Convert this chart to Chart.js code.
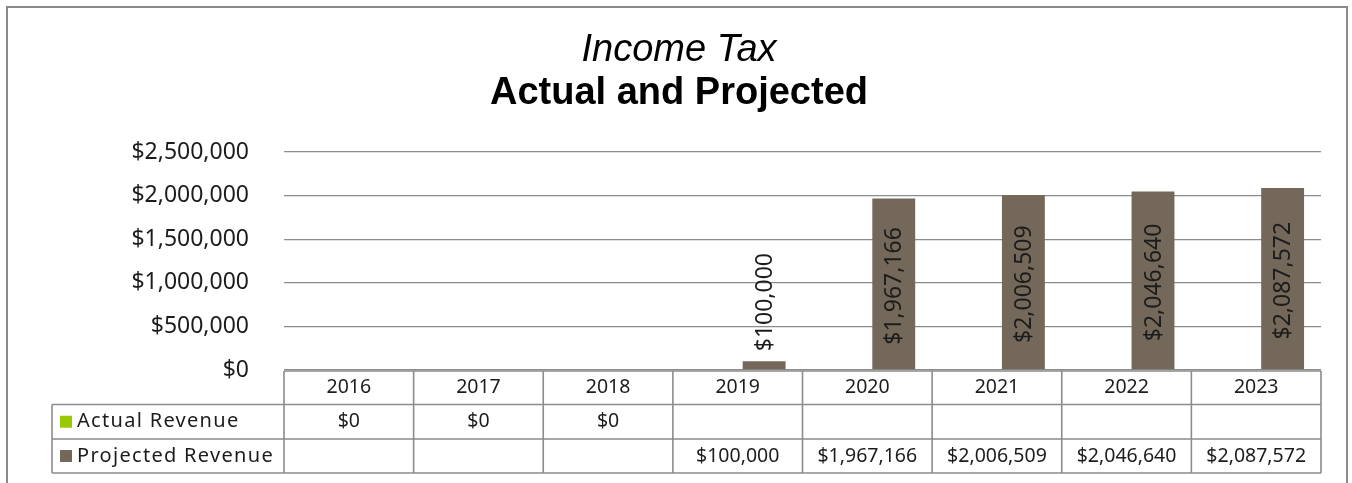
<!DOCTYPE html>
<html lang="en">
<head>
  <meta charset="UTF-8" />
  <title>Income Tax - Actual and Projected</title>
  <script src="https://cdn.jsdelivr.net/npm/chart.js"></script>
  <style>
    html, body { margin: 0; padding: 0; background: #fff; }
    canvas { display: block; }
  </style>
</head>
<body>
  <canvas id="taxChart" width="1352" height="483"></canvas>

  <script>
    // Chart data
    const years = ['2016', '2017', '2018', '2019', '2020', '2021', '2022', '2023'];
    const actualRevenue = [0, 0, 0, null, null, null, null, null];
    const projectedRevenue = [null, null, null, 100000, 1967166, 2006509, 2046640, 2087572];
    const yTickValues = [0, 500000, 1000000, 1500000, 2000000, 2500000];
    const seriesNames = ['Actual Revenue', 'Projected Revenue'];
    const titleLines = ['Income Tax', 'Actual and Projected'];

    const GREEN = '#99c900';
    const BROWN = '#736859';
    const TEXT = '#1c1c1c';
    const LINE = '#8c8c8c';
    const BODY_FONT = '"Noto Sans", sans-serif';
    const TITLE_FONT = '"Liberation Sans", Arial, sans-serif';

    const money = v => '$' + Number(v).toLocaleString('en-US');

    // outer frame + white background
    const framePlugin = {
      id: 'frame',
      beforeDraw(chart) {
        const ctx = chart.ctx;
        ctx.save();
        ctx.fillStyle = '#fff';
        ctx.fillRect(0, 0, chart.width, chart.height);
        ctx.strokeStyle = '#8a8a8a';
        ctx.lineWidth = 2;
        ctx.strokeRect(7, 7, 1340, 520);
        ctx.restore();
      }
    };

    // two-line title, italic then bold
    const titlePlugin = {
      id: 'twoLineTitle',
      afterDraw(chart) {
        const ctx = chart.ctx;
        const cx = 679;
        ctx.save();
        ctx.fillStyle = '#000';
        ctx.textAlign = 'center';
        ctx.textBaseline = 'alphabetic';
        ctx.font = 'italic 38px ' + TITLE_FONT;
        ctx.fillText(titleLines[0], cx, 61);
        ctx.font = 'bold 38px ' + TITLE_FONT;
        ctx.fillText(titleLines[1], cx, 104);
        ctx.restore();
      }
    };

    // vertical value labels on the projected bars
    const barLabelPlugin = {
      id: 'barLabels',
      afterDatasetsDraw(chart) {
        const ctx = chart.ctx;
        const meta = chart.getDatasetMeta(1);
        ctx.save();
        ctx.font = '23px ' + BODY_FONT;
        ctx.fillStyle = TEXT;
        ctx.textAlign = 'center';
        ctx.textBaseline = 'middle';
        meta.data.forEach((bar, i) => {
          const v = projectedRevenue[i];
          if (v === null) return;
          const txt = money(v);
          const w = ctx.measureText(txt).width;
          const h = bar.base - bar.y;
          let cy;
          if (h > w + 20) cy = (bar.y + bar.base) / 2 + 2;
          else cy = bar.y - 10 - w / 2;
          ctx.save();
          ctx.translate(bar.x, cy);
          ctx.rotate(-Math.PI / 2);
          ctx.fillText(txt, 0, 1);
          ctx.restore();
        });
        ctx.restore();
      }
    };

    // data table under the plot
    const dataTablePlugin = {
      id: 'dataTable',
      afterDraw(chart) {
        const ctx = chart.ctx;
        const area = chart.chartArea;
        const xs = chart.scales.x;
        const colW = (area.right - area.left) / years.length;
        const top = area.bottom + 1;
        const rows = [top, top + 33.5, top + 68, top + 102];
        const legendLeft = 52;

        ctx.save();
        ctx.strokeStyle = LINE;
        ctx.lineWidth = 1.6;
        ctx.beginPath();
        // header row
        ctx.moveTo(area.left, rows[0]); ctx.lineTo(area.right, rows[0]);
        // body rows span the legend column too
        for (let r = 1; r < rows.length; r++) {
          ctx.moveTo(legendLeft, rows[r]); ctx.lineTo(area.right, rows[r]);
        }
        ctx.moveTo(legendLeft, rows[1]); ctx.lineTo(legendLeft, rows[3]);
        for (let c = 0; c <= years.length; c++) {
          const x = area.left + c * colW;
          ctx.moveTo(x, rows[0]); ctx.lineTo(x, rows[3]);
        }
        ctx.stroke();

        ctx.fillStyle = TEXT;
        ctx.font = '19.5px ' + BODY_FONT;
        ctx.textAlign = 'center';
        ctx.textBaseline = 'middle';
        years.forEach((yr, i) => {
          const x = xs.getPixelForValue(i);
          ctx.fillText(yr, x, (rows[0] + rows[1]) / 2);
          if (actualRevenue[i] !== null) ctx.fillText(money(actualRevenue[i]), x, (rows[1] + rows[2]) / 2);
          if (projectedRevenue[i] !== null) ctx.fillText(money(projectedRevenue[i]), x, (rows[2] + rows[3]) / 2);
        });

        // legend keys
        ctx.font = '20px ' + BODY_FONT;
        [GREEN, BROWN].forEach((col, r) => {
          const cy = (rows[r + 1] + rows[r + 2]) / 2;
          ctx.fillStyle = col;
          ctx.fillRect(60, cy - 6, 12, 12);
          ctx.fillStyle = TEXT;
          ctx.textAlign = 'left';
          ctx.letterSpacing = '1.3px';
          ctx.fillText(seriesNames[r], 77, cy);
          ctx.letterSpacing = '0px';
        });
        ctx.restore();
      }
    };

    new Chart(document.getElementById('taxChart'), {
      type: 'bar',
      data: {
        labels: years,
        datasets: [
          { label: seriesNames[0], data: actualRevenue, backgroundColor: GREEN },
          { label: seriesNames[1], data: projectedRevenue, backgroundColor: BROWN }
        ]
      },
      options: {
        responsive: false,
        animation: false,
        layout: { padding: { top: 152, right: 31, bottom: 113, left: 0 } },
        datasets: { bar: { categoryPercentage: 0.816, barPercentage: 0.811 } },
        plugins: {
          legend: { display: false },
          title: { display: false },
          tooltip: { enabled: false }
        },
        scales: {
          x: { display: false },
          y: {
            min: 0,
            max: 2500000,
            afterBuildTicks: axis => { axis.ticks = yTickValues.map(v => ({ value: v })); },
            afterFit: axis => { axis.width = 284; },
            border: { display: false },
            grid: { color: LINE, lineWidth: 1.3, drawTicks: false },
            ticks: {
              padding: 35,
              color: TEXT,
              font: { family: BODY_FONT, size: 23 },
              callback: v => money(v)
            }
          }
        }
      },
      plugins: [framePlugin, titlePlugin, barLabelPlugin, dataTablePlugin]
    });
  </script>
</body>
</html>
